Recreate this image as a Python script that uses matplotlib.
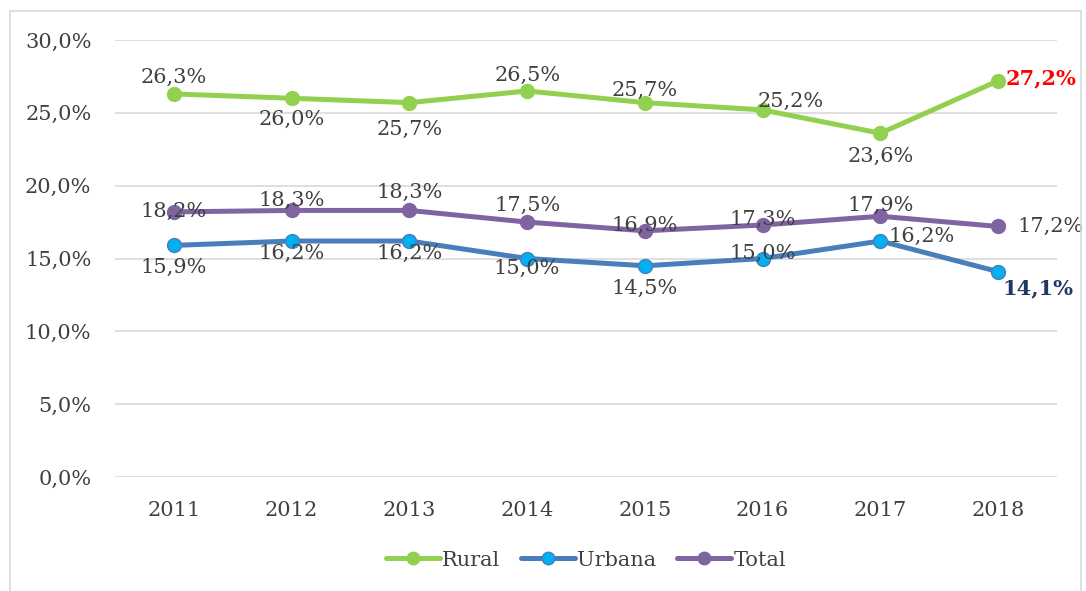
import matplotlib.pyplot as plt
from matplotlib.patches import Rectangle
from matplotlib.ticker import FuncFormatter

plt.rcParams['font.family'] = ['DejaVu Serif']

# data
years = ['2011', '2012', '2013', '2014', '2015', '2016', '2017', '2018']
rural = [26.3, 26.0, 25.7, 26.5, 25.7, 25.2, 23.6, 27.2]
urbana = [15.9, 16.2, 16.2, 15.0, 14.5, 15.0, 16.2, 14.1]
total = [18.2, 18.3, 18.3, 17.5, 16.9, 17.3, 17.9, 17.2]

# label offsets (points) per point
rural_off = [(0, 12), (0, -15), (0, -19), (0, 11), (0, 9), (20, 6), (0, -17), (31, 2)]
urbana_off = [(0, -16), (0, -9), (0, -9), (0, -7), (0, -16), (0, 4), (30, 3), (29, -12)]
total_off = [(0, 0), (0, 7), (0, 13), (0, 12), (0, 4), (0, 4), (0, 8), (38, 0)]

txt = '#404040'
fs = 15
fig = plt.figure(figsize=(10.86, 5.91), dpi=100)
fig.patches.append(Rectangle((10 / 1086, -0.05), 1071 / 1086, 1.05 - 11 / 591,
                             transform=fig.transFigure, fill=False,
                             edgecolor='#d9d9d9', linewidth=1.2))
ax = fig.add_axes([115 / 1086, 1 - 477 / 591, 942 / 1086, 437 / 591])

x = list(range(len(years)))
ax.plot(x, rural, color='#92D050', lw=3.6, marker='o', ms=10,
        mfc='#92D050', mec='#92D050', label='Rural', solid_capstyle='round')
ax.plot(x, urbana, color='#4A7EBB', lw=3.6, marker='o', ms=10,
        mfc='#00B0F0', mec='#4A7EBB', mew=1, label='Urbana', solid_capstyle='round')
ax.plot(x, total, color='#8064A2', lw=3.6, marker='o', ms=10,
        mfc='#8064A2', mec='#8064A2', label='Total', solid_capstyle='round')


def fmt(v):
    return f'{v:.1f}%'.replace('.', ',')


for vals, offs, name in [(rural, rural_off, 'r'), (urbana, urbana_off, 'u'), (total, total_off, 't')]:
    for i, (v, o) in enumerate(zip(vals, offs)):
        kw = dict(color=txt, fontsize=fs)
        if i == 7 and name == 'r':
            kw = dict(color='#FF0000', fontsize=fs, fontweight='bold')
        if i == 7 and name == 'u':
            kw = dict(color='#1F3864', fontsize=fs, fontweight='bold')
        ax.annotate(fmt(v), (i, v), xytext=o, textcoords='offset points',
                    ha='center', va='center', **kw)

ax.set_xlim(-0.5, 7.5)
ax.set_ylim(0, 30)
ax.set_yticks([0, 5, 10, 15, 20, 25, 30])
ax.yaxis.set_major_formatter(FuncFormatter(lambda v, p: fmt(v)))
ax.set_xticks(x)
ax.set_xticklabels(years)
ax.tick_params(length=0, labelsize=fs, labelcolor=txt)
ax.tick_params(axis='x', pad=17)
ax.tick_params(axis='y', pad=17)
ax.grid(axis='y', color='#d9d9d9', lw=1.2)
ax.set_axisbelow(True)
for s in ax.spines.values():
    s.set_visible(False)

leg = ax.legend(loc='center', bbox_to_anchor=(0.5, -0.19), ncol=3, frameon=False,
                fontsize=fs, handlelength=2.6, columnspacing=1.0, handletextpad=0.1,
                markerscale=0.9)
for t in leg.get_texts():
    t.set_color(txt)

fig.savefig('out.png', dpi=100)
